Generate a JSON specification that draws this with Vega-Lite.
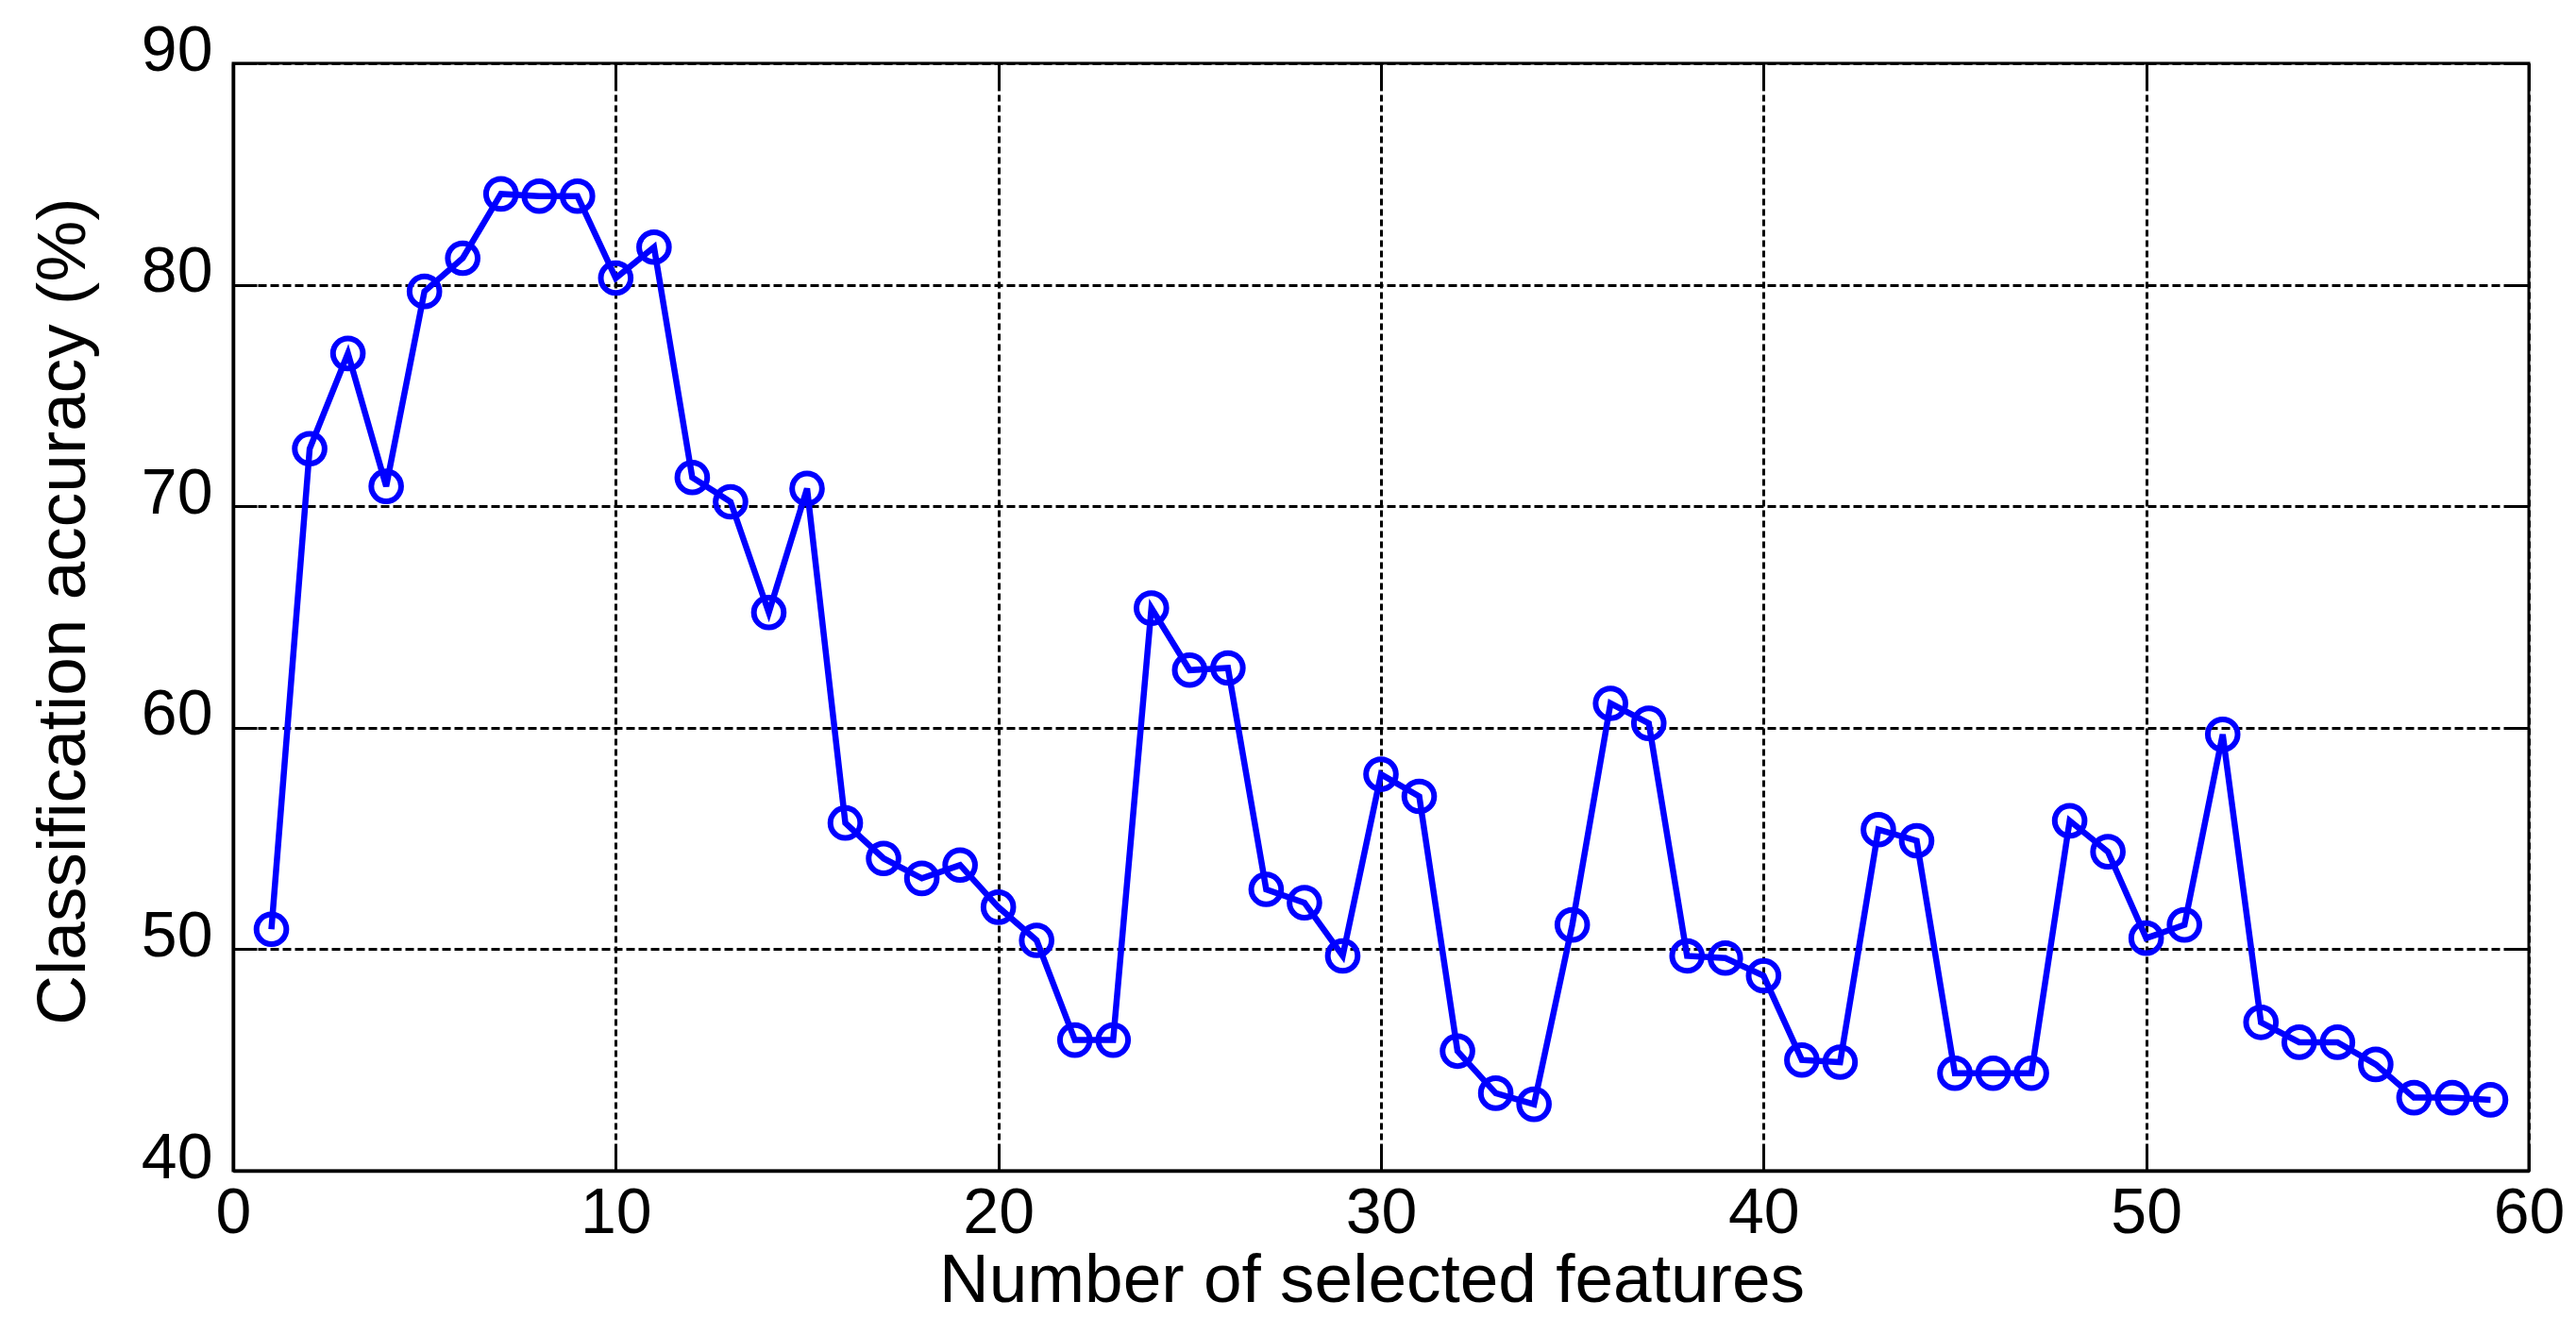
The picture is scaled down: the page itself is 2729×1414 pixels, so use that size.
{
  "$schema": "https://vega.github.io/schema/vega-lite/v6.json",
  "width": 2432,
  "height": 1173,
  "autosize": {"type": "none"},
  "padding": {"left": 247, "top": 67, "right": 50, "bottom": 174},
  "background": "white",
  "config": {
    "view": {"stroke": "black", "strokeWidth": 3},
    "font": "Liberation Sans",
    "axis": {
      "labelFont": "Liberation Sans",
      "titleFont": "Liberation Sans",
      "labelColor": "black",
      "titleColor": "black",
      "labelFontWeight": "normal",
      "titleFontWeight": "normal",
      "labelFlush": false,
      "labelOverlap": false,
      "labelBound": false
    }
  },
  "data": {
    "values": [
      {"n": 1, "acc": 50.9}, {"n": 2, "acc": 72.6}, {"n": 3, "acc": 76.9}, {"n": 4, "acc": 70.9},
      {"n": 5, "acc": 79.7}, {"n": 6, "acc": 81.2}, {"n": 7, "acc": 84.1}, {"n": 8, "acc": 84.0},
      {"n": 9, "acc": 84.0}, {"n": 10, "acc": 80.3}, {"n": 11, "acc": 81.7}, {"n": 12, "acc": 71.3},
      {"n": 13, "acc": 70.2}, {"n": 14, "acc": 65.2}, {"n": 15, "acc": 70.8}, {"n": 16, "acc": 55.7},
      {"n": 17, "acc": 54.1}, {"n": 18, "acc": 53.2}, {"n": 19, "acc": 53.8}, {"n": 20, "acc": 51.9},
      {"n": 21, "acc": 50.4}, {"n": 22, "acc": 45.9}, {"n": 23, "acc": 45.9}, {"n": 24, "acc": 65.4},
      {"n": 25, "acc": 62.6}, {"n": 26, "acc": 62.7}, {"n": 27, "acc": 52.7}, {"n": 28, "acc": 52.1},
      {"n": 29, "acc": 49.7}, {"n": 30, "acc": 57.9}, {"n": 31, "acc": 56.9}, {"n": 32, "acc": 45.4},
      {"n": 33, "acc": 43.5}, {"n": 34, "acc": 43.0}, {"n": 35, "acc": 51.1}, {"n": 36, "acc": 61.1},
      {"n": 37, "acc": 60.2}, {"n": 38, "acc": 49.7}, {"n": 39, "acc": 49.6}, {"n": 40, "acc": 48.8},
      {"n": 41, "acc": 45.0}, {"n": 42, "acc": 44.9}, {"n": 43, "acc": 55.4}, {"n": 44, "acc": 54.9},
      {"n": 45, "acc": 44.4}, {"n": 46, "acc": 44.4}, {"n": 47, "acc": 44.4}, {"n": 48, "acc": 55.8},
      {"n": 49, "acc": 54.4}, {"n": 50, "acc": 50.5}, {"n": 51, "acc": 51.1}, {"n": 52, "acc": 59.7},
      {"n": 53, "acc": 46.7}, {"n": 54, "acc": 45.8}, {"n": 55, "acc": 45.8}, {"n": 56, "acc": 44.8},
      {"n": 57, "acc": 43.3}, {"n": 58, "acc": 43.3}, {"n": 59, "acc": 43.2}
    ]
  },
  "layer": [
    {
      "mark": {"type": "line", "color": "#0000FF", "strokeWidth": 6.5, "clip": true},
      "encoding": {
        "x": {
          "field": "n", "type": "quantitative",
          "scale": {"domain": [0, 60], "nice": false, "zero": false},
          "axis": {
            "orient": "bottom",
            "values": [0, 10, 20, 30, 40, 50, 60],
            "title": "Number of selected features",
            "titleFontSize": 73,
            "titleBaseline": "alphabetic",
            "titleX": 1206,
            "titleY": 138,
            "labelFontSize": 68,
            "labelBaseline": "top",
            "labelPadding": 36,
            "ticks": true,
            "tickSize": -25,
            "tickColor": "black",
            "tickWidth": 3,
            "domain": true,
            "domainColor": "black",
            "domainWidth": 3.5,
            "grid": true,
            "gridColor": "black",
            "gridWidth": 3,
            "gridOpacity": 1,
            "gridDash": [7, 4]
          }
        },
        "y": {
          "field": "acc", "type": "quantitative",
          "scale": {"domain": [40, 90], "nice": false, "zero": false},
          "axis": {
            "orient": "left",
            "values": [40, 50, 60, 70, 80, 90],
            "title": "Classification accuracy (%)",
            "titleFontSize": 73,
            "titleAngle": -90,
            "titleBaseline": "alphabetic",
            "titleAlign": "center",
            "titleX": -158,
            "titleY": 580,
            "labelFontSize": 68,
            "labelBaseline": "alphabetic",
            "labelOffset": 7,
            "labelPadding": 47,
            "ticks": true,
            "tickSize": -25,
            "tickColor": "black",
            "tickWidth": 3,
            "domain": true,
            "domainColor": "black",
            "domainWidth": 3.5,
            "grid": true,
            "gridColor": "black",
            "gridWidth": 3,
            "gridOpacity": 1,
            "gridDash": [9, 4]
          }
        }
      }
    },
    {
      "mark": {"type": "point", "shape": "circle", "filled": false, "color": "#0000FF", "strokeWidth": 6, "size": 1000, "opacity": 1},
      "encoding": {
        "x": {
          "field": "n", "type": "quantitative",
          "axis": {
            "orient": "top",
            "values": [0, 10, 20, 30, 40, 50, 60],
            "title": null,
            "labels": false,
            "ticks": true,
            "tickSize": -25,
            "tickColor": "black",
            "tickWidth": 3,
            "domain": false,
            "grid": false
          }
        },
        "y": {
          "field": "acc", "type": "quantitative",
          "axis": {
            "orient": "right",
            "values": [40, 50, 60, 70, 80, 90],
            "title": null,
            "labels": false,
            "ticks": true,
            "tickSize": -25,
            "tickColor": "black",
            "tickWidth": 3,
            "domain": false,
            "grid": false
          }
        }
      }
    }
  ],
  "resolve": {"axis": {"x": "independent", "y": "independent"}}
}
